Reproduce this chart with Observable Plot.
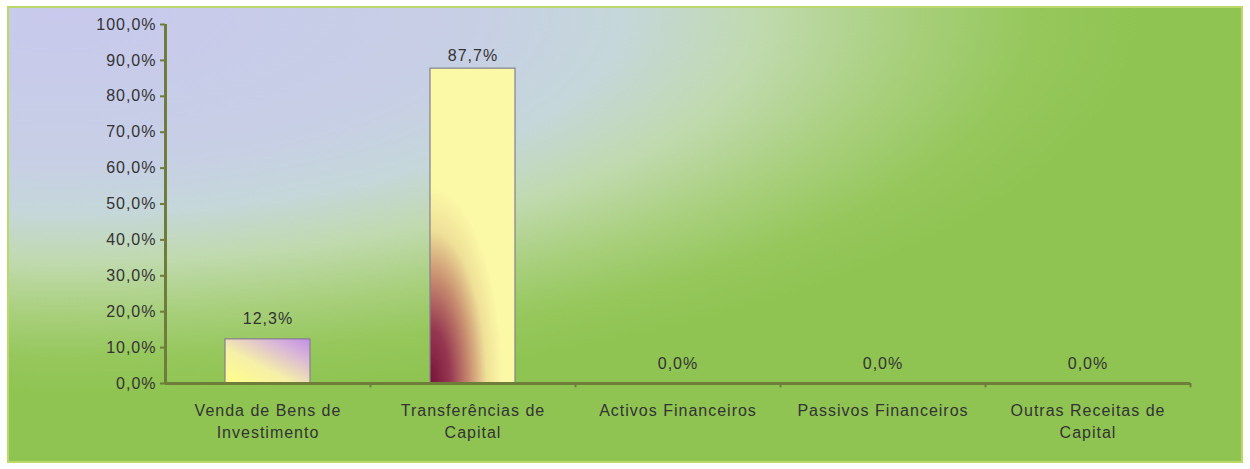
<!DOCTYPE html>
<html>
<head>
<meta charset="utf-8">
<script src="https://cdn.jsdelivr.net/npm/d3@7"></script>
<script src="https://cdn.jsdelivr.net/npm/@observablehq/plot@0.6"></script>
<style>
  html, body { margin: 0; padding: 0; background: #ffffff; }
  #chart svg { display: block; }
</style>
</head>
<body>
<div id="chart"></div>
<script>
// ---- data ----
const categories = [
  "Venda de Bens de\nInvestimento",
  "Transferências de\nCapital",
  "Activos Financeiros",
  "Passivos Financeiros",
  "Outras Receitas de\nCapital"
];
const values = [12.3, 87.7, 0.0, 0.0, 0.0];
const valueLabels = ["12,3%", "87,7%", "0,0%", "0,0%", "0,0%"];
const barGradients = ["url(#gBar0)", "url(#gBar1)", "none", "none", "none"];
const yTicks = [0, 10, 20, 30, 40, 50, 60, 70, 80, 90, 100];
const yTickLabels = ["0,0%", "10,0%", "20,0%", "30,0%", "40,0%", "50,0%", "60,0%", "70,0%", "80,0%", "90,0%", "100,0%"];

const data = categories.map((c, i) => ({cat: c, value: values[i], label: valueLabels[i], grad: barGradients[i], i}));

// ---- layout ----
const W = 1250, H = 469;
const mL = 165, mR = 60, mT = 24, mB = 86;
const half = (W - mL - mR) / categories.length / 2;
const axisColor = "#6f7d3a";
const textColor = "#333333";

function background(index, scales, values, dims) {
  const g = d3.create("svg:g");
  const defs = g.append("defs");
  const bg = defs.append("radialGradient")
    .attr("id", "bgGrad").attr("gradientUnits", "userSpaceOnUse")
    .attr("cx", 0).attr("cy", 0).attr("r", 1)
    .attr("gradientTransform", "translate(60,15) scale(1080,380)");
  [[0, "#c8c9ec"], [0.38, "#c7cfe5"], [0.52, "#c5d7da"], [0.65, "#c0daae"], [0.78, "#a9d07e"], [0.9, "#96c75c"], [1, "#8fc452"]]
    .forEach(([o, c]) => bg.append("stop").attr("offset", o).attr("stop-color", c));
  const g0 = defs.append("linearGradient").attr("id", "gBar0")
    .attr("x1", 0).attr("y1", 1).attr("x2", 1).attr("y2", 0);
  [[0, "#ffff88"], [0.4, "#f6efa8"], [0.75, "#d9b6d8"], [1, "#c18de6"]]
    .forEach(([o, c]) => g0.append("stop").attr("offset", o).attr("stop-color", c));
  const g1 = defs.append("radialGradient").attr("id", "gBar1")
    .attr("cx", 0).attr("cy", 0).attr("r", 1)
    .attr("gradientTransform", "translate(0,1) scale(0.85,0.62)");
  [[0, "#761238"], [0.28, "#973852"], [0.55, "#c98f70"], [0.78, "#efe098"], [1, "#fbf8a6"]]
    .forEach(([o, c]) => g1.append("stop").attr("offset", o).attr("stop-color", c));
  g.append("rect")
    .attr("x", 8).attr("y", 7)
    .attr("width", dims.width - 16).attr("height", dims.height - 14)
    .attr("fill", "url(#bgGrad)")
    .attr("stroke", "#bcd86a").attr("stroke-width", 2);
  return g.node();
}

const chart = Plot.plot({
  width: W,
  height: H,
  marginLeft: mL,
  marginRight: mR,
  marginTop: mT,
  marginBottom: mB,
  style: {fontFamily: "'Liberation Sans', Arial, sans-serif", fontSize: "16px", letterSpacing: "1px", background: "transparent", overflow: "visible"},
  x: {domain: categories, paddingInner: 0.585, paddingOuter: 0.2925, axis: null},
  y: {domain: [0, 100], axis: null},
  color: {type: "identity"},
  marks: [
    background,
    Plot.barY(data, {x: "cat", y: "value", fill: "grad", stroke: "#85808f", strokeWidth: 1.2}),
    Plot.axisY({ticks: yTicks, tickFormat: d => yTickLabels[yTicks.indexOf(d)], tickSize: 5, tickPadding: 4,
      stroke: axisColor, strokeWidth: 2, fill: textColor, fontSize: 16, label: null}),
    // y axis line
    Plot.ruleX([categories[0]], {x: d => d, y1: 0, y2: 100, dx: -half, stroke: axisColor, strokeWidth: 3}),
    // x axis line
    Plot.ruleY([0], {stroke: axisColor, strokeWidth: 3}),
    // category boundary ticks
    Plot.ruleX(categories, {x: d => d, y1: -1.2, y2: 0, dx: half, stroke: axisColor, strokeWidth: 2}),
    // category labels
    Plot.text(categories, {x: d => d, y: 0, text: d => d, dy: 17, lineAnchor: "top", lineHeight: 1.375,
      fill: textColor, fontSize: 16}),
    // value labels
    Plot.text(data.filter(d => d.i !== 1), {x: "cat", y: "value", text: "label", dy: -15, lineAnchor: "bottom", fill: textColor, fontSize: 16}),
    Plot.text(data.filter(d => d.i === 1), {x: "cat", y: "value", text: "label", dy: -8, lineAnchor: "bottom", fill: textColor, fontSize: 16})
  ]
});

document.getElementById("chart").appendChild(chart);
</script>
</body>
</html>
